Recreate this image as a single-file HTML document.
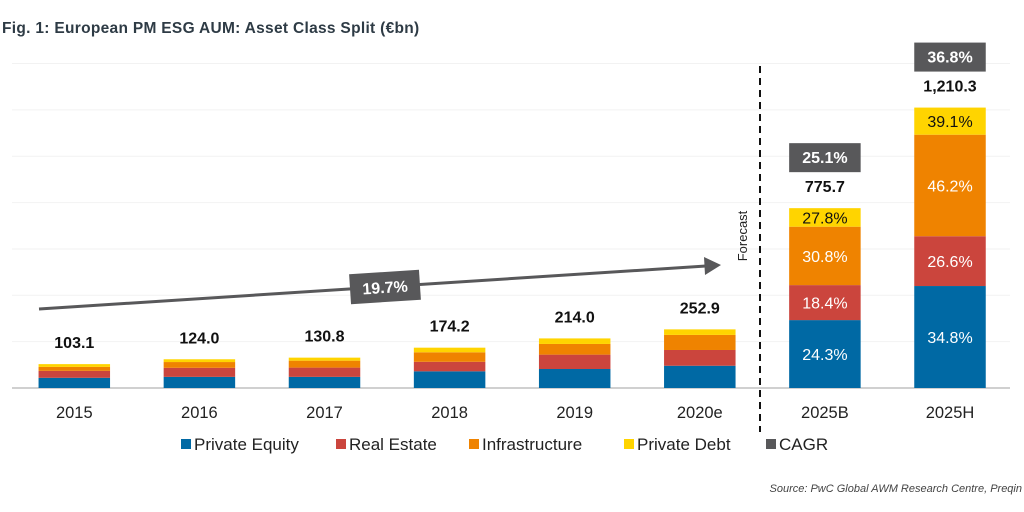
<!DOCTYPE html>
<html><head><meta charset="utf-8"><style>
body{margin:0;background:#fff;}
svg{display:block;font-family:"Liberation Sans",sans-serif;}
</style></head><body>
<svg id="chart" width="1024" height="512" viewBox="0 0 1024 512" xmlns="http://www.w3.org/2000/svg">
<text x="2" y="33" font-size="15.5" font-weight="bold" fill="#2e3b45" letter-spacing="0.3">Fig. 1: European PM ESG AUM: Asset Class Split (€bn)</text>
<g id="grid"></g>
<g id="bars"></g>
<g id="labels"></g>
<line x1="39" y1="309" x2="706" y2="266" stroke="#58585a" stroke-width="3"/>
<polygon points="704,257 721,265 705,275" fill="#58585a"/>
<g transform="translate(385,287) rotate(-3.7)">
<rect x="-35" y="-15" width="70" height="30" fill="#58585a"/>
<text x="0" y="6" text-anchor="middle" font-size="16" font-weight="bold" fill="#fff">19.7%</text>
</g>
<line x1="760" y1="66" x2="760" y2="432" stroke="#111" stroke-width="2" stroke-dasharray="7,5"/>
<text transform="translate(747,236) rotate(-90)" text-anchor="middle" font-size="13" fill="#222">Forecast</text>
<g id="legend"></g>
<text x="1022" y="492" text-anchor="end" font-size="11" font-style="italic" fill="#444">Source: PwC Global AWM Research Centre, Preqin</text>
</svg>
<script>
const categories=["2015","2016","2017","2018","2019","2020e","2025B","2025H"];
const privateEquity=[44,48,48,72,82,96,293,440];
const realEstate=[30,39,40,41,62,68,151,215];
const infrastructure=[17,25,30,41,46,65,252,438];
const privateDebt=[12,12,13,20,24,24,80,117];
const totals=["103.1","124.0","130.8","174.2","214.0","252.9","775.7","1,210.3"];
const segLabels=[null,null,null,null,null,null,["24.3%","18.4%","30.8%","27.8%"],["34.8%","26.6%","46.2%","39.1%"]];
const cagrLabels=[null,null,null,null,null,null,"25.1%","36.8%"];
const yTicks=[0,200,400,600,800,1000,1200,1400];
const NS="http://www.w3.org/2000/svg";
const y0=388,scale=46.35/200;
function y(v){return y0-v*scale;}
function x(i){return 74.3+i*125.1;}
const bw=71.5;
function mk(tag,attrs,parent){const e=document.createElementNS(NS,tag);for(const k in attrs)e.setAttribute(k,attrs[k]);parent.appendChild(e);return e;}
const grid=document.getElementById('grid'),bars=document.getElementById('bars'),labels=document.getElementById('labels'),legend=document.getElementById('legend');
yTicks.forEach((t,i)=>{const l=mk('line',{x1:12,x2:1010,y1:y(t),y2:y(t),stroke:i==0?'#d0d0d0':'#f2f2f2','stroke-width':i==0?2:1},grid);

});
const series=[privateEquity,realEstate,infrastructure,privateDebt];
const colors=["#0069a4","#cb453d","#ef8300","#ffd400"];
const names=["private-equity","real-estate","infrastructure","private-debt"];
const txtCol=["#fff","#fff","#fff","#111"];
categories.forEach((c,i)=>{
 let base=0;
 series.forEach((s,k)=>{
  const r=mk('rect',{x:x(i)-bw/2,y:y(base+s[i]),width:bw,height:s[i]*scale,fill:colors[k]},bars);
  
  
  if(segLabels[i]){const t=mk('text',{x:x(i),y:y(base+s[i]/2)+6,'text-anchor':'middle','font-size':16,fill:txtCol[k]},labels);t.textContent=segLabels[i][k];
   
   }
  base+=s[i];
 });
 const tt=mk('text',{x:x(i),y:y(base)-16,'text-anchor':'middle','font-size':16,'font-weight':'bold',fill:'#111'},labels);tt.textContent=totals[i];
 
 
 if(cagrLabels[i]){const g=mk('g',{},labels);
  
  
  mk('rect',{x:x(i)-bw/2,y:y(base)-65,width:bw,height:29,fill:'#58585a'},g);
  const ct=mk('text',{x:x(i),y:y(base)-45,'text-anchor':'middle','font-size':16,'font-weight':'bold',fill:'#fff'},g);ct.textContent=cagrLabels[i];}
 const xl=mk('text',{x:x(i),y:418,'text-anchor':'middle','font-size':16.5,fill:'#222'},labels);xl.textContent=c;
 
 
});
const legItems=[["Private Equity","#0069a4",181],["Real Estate","#cb453d",336],["Infrastructure","#ef8300",469],["Private Debt","#ffd400",624],["CAGR","#58585a",766]];
legItems.forEach(([n,col,lx])=>{const g=mk('g',{},legend);
 
 
 mk('rect',{x:lx,y:439,width:10,height:10,fill:col},g);
 const t=mk('text',{x:lx+13,y:450,'font-size':17,fill:'#222'},g);t.textContent=n;});
</script>
</body></html>
